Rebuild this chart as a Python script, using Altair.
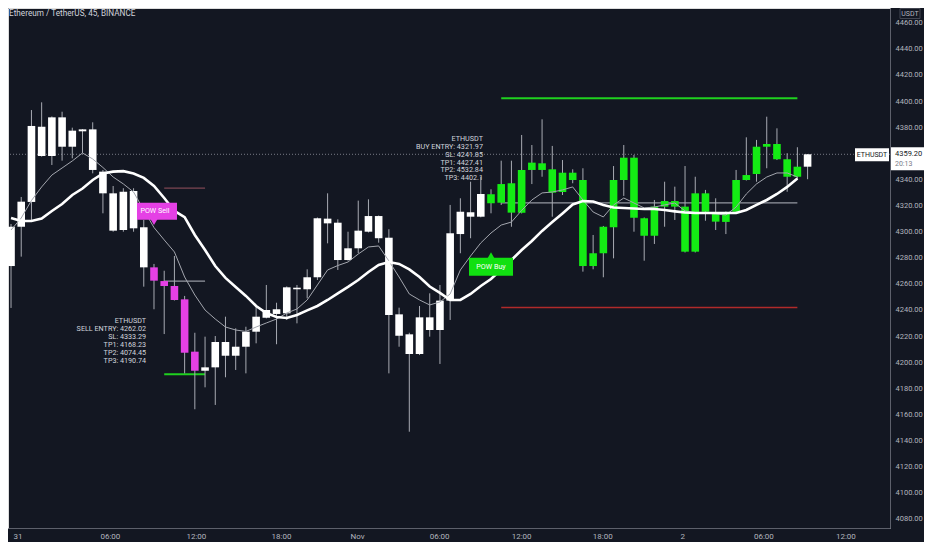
import altair as alt
import pandas as pd

TITLE = "Ethereum / TetherUS, 45, BINANCE"

opens = [4273.6, 4303.7, 4322.7, 4380.3, 4357.9, 4387.5, 4365.0, 4376.8, 4378.3, 4345.9,
         4329.3, 4301.2, 4331.1, 4303.3, 4272.6, 4262.1, 4258.3, 4248.1, 4208.0, 4193.4,
         4196.0, 4215.4, 4204.9, 4211.8, 4223.3, 4234.0, 4240.5, 4237.4, 4257.0, 4255.8,
         4265.0, 4309.9, 4306.8, 4278.2, 4287.2, 4299.9, 4311.9, 4295.3, 4236.6, 4221.3,
         4206.2, 4234.3, 4224.6, 4247.1, 4298.1, 4314.8, 4311.4, 4328.6, 4322.1, 4337.0,
         4314.5, 4347.2, 4352.3, 4347.7, 4330.3, 4345.1, 4339.5, 4273.6, 4283.4, 4303.3,
         4339.5, 4356.6, 4310.2, 4296.8, 4319.1, 4323.4, 4319.1, 4284.6, 4329.3, 4314.5,
         4307.4, 4315.2, 4339.5, 4344.1, 4365.0, 4367.1, 4355.4, 4342.0, 4349.7]
highs = [4305.8, 4326.5, 4393.1, 4399.0, 4388.2, 4391.8, 4379.6, 4378.5, 4383.7, 4347.2,
         4334.9, 4333.2, 4333.2, 4308.9, 4275.2, 4270.0, 4281.3, 4250.7, 4222.5, 4219.5,
         4220.0, 4234.8, 4225.9, 4227.1, 4243.0, 4259.1, 4245.5, 4258.0, 4259.1, 4271.1,
         4310.8, 4329.3, 4309.4, 4299.9, 4323.7, 4324.7, 4312.3, 4301.8, 4241.7, 4222.5,
         4243.0, 4252.7, 4259.1, 4320.4, 4325.5, 4338.2, 4342.0, 4332.4, 4354.3, 4354.3,
         4374.0, 4366.3, 4386.0, 4365.6, 4354.8, 4347.7, 4348.5, 4297.4, 4304.3, 4350.2,
         4366.3, 4358.7, 4310.8, 4324.2, 4338.2, 4334.4, 4350.2, 4342.0, 4331.9, 4325.5,
         4315.4, 4347.2, 4372.2, 4370.2, 4388.0, 4379.1, 4360.0, 4364.6, 4359.4]
lows = [4241.5, 4280.8, 4308.9, 4357.4, 4351.0, 4354.3, 4356.1, 4360.0, 4344.6, 4314.0,
        4299.9, 4299.9, 4299.9, 4257.8, 4240.5, 4221.5, 4247.2, 4191.4, 4163.9, 4180.7,
        4167.2, 4188.4, 4194.0, 4191.4, 4214.4, 4233.5, 4213.7, 4232.3, 4229.7, 4248.9,
        4262.9, 4291.0, 4270.6, 4277.7, 4283.4, 4299.3, 4291.5, 4191.4, 4211.8, 4146.7,
        4205.4, 4219.5, 4198.6, 4232.3, 4283.4, 4294.9, 4310.9, 4314.0, 4320.4, 4303.7,
        4313.9, 4336.4, 4342.0, 4311.4, 4328.0, 4337.0, 4269.3, 4271.1, 4265.0, 4279.5,
        4327.3, 4299.9, 4277.7, 4290.5, 4303.7, 4308.9, 4284.0, 4284.0, 4308.3, 4301.2,
        4298.1, 4314.6, 4339.1, 4338.2, 4348.5, 4354.8, 4330.5, 4340.1, 4340.1]
closes = [4303.7, 4322.9, 4380.9, 4357.9, 4387.5, 4365.0, 4377.3, 4378.3, 4347.2, 4329.3,
          4300.7, 4330.5, 4302.5, 4272.6, 4262.4, 4258.3, 4247.6, 4207.2, 4193.4, 4196.0,
          4215.4, 4204.9, 4211.8, 4223.3, 4234.8, 4239.9, 4236.9, 4257.3, 4255.8, 4265.0,
          4310.2, 4306.3, 4278.2, 4287.2, 4300.7, 4311.9, 4294.9, 4236.1, 4220.2, 4206.2,
          4234.3, 4224.6, 4247.1, 4298.7, 4315.2, 4311.4, 4328.8, 4321.7, 4336.4, 4314.5,
          4347.2, 4352.8, 4347.2, 4329.8, 4345.1, 4339.5, 4273.6, 4283.4, 4303.7, 4339.5,
          4356.6, 4310.6, 4296.8, 4319.1, 4323.4, 4319.1, 4284.6, 4329.3, 4315.2, 4307.6,
          4314.5, 4339.5, 4343.3, 4365.0, 4367.1, 4355.4, 4342.0, 4349.7, 4359.2]
signal = (["none"] * 14 + ["sell"] * 5 + ["none"] * 28 + ["buy"] * 31 + ["none"])

slow_ma = [4310.4, 4308.1, 4308.1, 4310.0, 4315.8, 4321.1, 4328.0, 4333.0, 4339.5, 4344.5,
           4345.9, 4346.3, 4344.5, 4341.1, 4334.9, 4325.7, 4315.8, 4311.0, 4297.4, 4285.9,
           4273.6, 4264.5, 4257.6, 4250.7, 4243.0, 4237.6, 4234.6, 4233.8, 4236.1, 4239.6,
           4243.0, 4247.6, 4252.6, 4257.6, 4262.9, 4269.0, 4274.4, 4276.7, 4275.2, 4271.0,
           4265.2, 4257.9, 4253.0, 4247.6, 4247.6, 4252.2, 4258.3, 4263.7, 4271.0, 4278.2,
           4285.9, 4292.8, 4300.5, 4307.3, 4313.9, 4320.8, 4323.4, 4323.1, 4320.4, 4318.5,
           4318.1, 4317.7, 4317.3, 4317.3, 4316.5, 4315.5, 4314.6, 4314.2, 4314.2, 4314.2,
           4314.2, 4314.2, 4316.5, 4320.4, 4324.2, 4328.8, 4334.2, 4340.7]
fast_ma = [4301.2, 4310.4, 4323.8, 4334.2, 4343.3, 4348.7, 4354.1, 4360.2, 4355.6, 4349.1,
           4341.8, 4336.5, 4330.3, 4316.5, 4303.1, 4293.6, 4284.4, 4265.2, 4251.4, 4239.9,
           4233.0, 4226.9, 4224.6, 4223.5, 4226.9, 4230.0, 4233.0, 4237.6, 4240.7, 4247.6,
           4259.1, 4270.6, 4274.0, 4276.7, 4282.8, 4288.2, 4289.0, 4277.5, 4265.2, 4252.2,
           4247.6, 4243.8, 4246.1, 4252.2, 4270.6, 4281.3, 4291.3, 4298.9, 4305.0, 4307.3,
           4316.2, 4324.2, 4329.6, 4330.3, 4331.9, 4334.2, 4324.2, 4315.0, 4311.2, 4320.4,
           4325.7, 4321.9, 4318.1, 4318.8, 4320.4, 4321.9, 4315.8, 4314.6, 4314.2, 4313.5,
           4312.7, 4318.8, 4328.8, 4336.5, 4341.8, 4344.9, 4344.9, 4341.8]

# signal levels
lv_kind = ["sl_sell", "entry", "tp", "tp", "sl_buy", "entry"]
lv_start = [15, 15, 15, 48, 48, 48]
lv_end = [19, 19, 19, 77, 77, 77]
lv_price = [4333.29, 4262.02, 4190.74, 4402.1, 4241.85, 4321.97]

# signal labels
sig_bar = [14, 47]
sig_price = [4303.7, 4285.4]
sig_text = ["POW Sell", "POW Buy"]

# info blocks
info_bar = [13.23, 46.21]
info_price = [4234.2, 4374.1]
info_text = [
    "ETHUSDT\nSELL ENTRY: 4262.02\nSL: 4333.29\nTP1: 4168.23\nTP2: 4074.45\nTP3: 4190.74",
    "ETHUSDT\nBUY ENTRY: 4321.97\nSL: 4241.85\nTP1: 4427.41\nTP2: 4532.84\nTP3: 4402.1",
]

last_price = 4359.20
last_price_text = "4359.20"
countdown = "20:13"
symbol = "ETHUSDT"
currency = "USDT"

tick_pos = [0.194, 9.68, 18.1, 26.43, 33.88, 41.92, 49.95, 57.89, 65.73, 73.67, 81.7]
tick_txt = ["31", "06:00", "12:00", "18:00", "Nov", "06:00", "12:00", "18:00", "2", "06:00", "12:00"]
# 4360.00 is hidden behind the last-price tag in the original
price_ticks = [4080, 4100, 4120, 4140, 4160, 4180, 4200, 4220, 4240, 4260, 4280, 4300,
               4320, 4340, 4380, 4400, 4420, 4440, 4460]

W, H = 882, 520
BG = "#131722"
AX = "#b2b5be"
FONT = "Roboto"
PINK = "#e540e5"
GREEN = "#14ec14"

candles = pd.DataFrame({"j": list(range(len(opens))), "o": opens, "h": highs,
                        "l": lows, "c": closes, "sig": signal})
ma = pd.DataFrame({"j": list(range(len(slow_ma))), "slow": slow_ma, "fast": fast_ma})
levels = pd.DataFrame({"j1": lv_start, "j2": lv_end, "price": lv_price, "kind": lv_kind})
sell = pd.DataFrame({"j": sig_bar[:1], "price": sig_price[:1], "text": sig_text[:1]})
buy = pd.DataFrame({"j": sig_bar[1:], "price": sig_price[1:], "text": sig_text[1:]})
info = pd.DataFrame({"j": info_bar, "price": info_price, "text": info_text})
lastdf = pd.DataFrame({"price": [last_price], "txt": [last_price_text],
                       "cd": [countdown], "sym": [symbol]})
cur = pd.DataFrame({"t": [currency], "title": [TITLE]})

xs = alt.Scale(domain=[0.194, 85.58], nice=False, zero=False)
ys = alt.Scale(domain=[4072.94, 4471.26], nice=False, zero=False)

pos_js = "[" + ",".join(repr(v) for v in tick_pos) + "]"
txt_js = "[" + ",".join("'%s'" % t for t in tick_txt) + "]"
xaxis = alt.Axis(values=tick_pos, labelExpr=f"{txt_js}[indexof({pos_js}, datum.value)]",
                 title=None, grid=False, ticks=False, domainColor="#5d606b",
                 labelColor=AX, labelFontSize=8, labelFont=FONT, labelPadding=4,
                 labelFlush=5, labelOverlap=False, labelBound=False)
yaxis = alt.Axis(orient="right", values=price_ticks, format=".2f", title=None, grid=False,
                 ticks=False, domainColor="#5d606b", labelColor=AX, labelFontSize=7.5,
                 labelFont=FONT, labelPadding=5, labelOverlap=False, labelBound=False,
                 labelFlush=False)


def X(f):
    return alt.X(f, type="quantitative", scale=xs, axis=xaxis)


def Y(f):
    return alt.Y(f, type="quantitative", scale=ys, axis=yaxis)


price_line = alt.Chart(lastdf).mark_rule(color="#787b86", strokeDash=[1, 2], strokeWidth=1).encode(
    y=Y("price"))

lv_style = {"sl_sell": ("#7d4652", 1.3), "entry": ("#9598a1", 1.2),
            "tp": ("#1fd11f", 2), "sl_buy": ("#b02a2a", 1.3)}
level_layers = [
    alt.Chart(levels).transform_filter(alt.datum.kind == k).mark_rule(color=c, strokeWidth=w).encode(
        x=X("j1"), x2="j2", y=Y("price"))
    for k, (c, w) in lv_style.items()
]

wicks = alt.Chart(candles).mark_rule(color="#a8abb3", strokeWidth=1).encode(
    x=X("j"), y=Y("l"), y2="h")

body_style = {"none": "#ffffff", "sell": PINK, "buy": GREEN}
body_layers = [
    alt.Chart(candles).transform_filter(alt.datum.sig == k).mark_bar(size=7.6, color=c).encode(
        x=X("j"), y=Y("o"), y2="c")
    for k, c in body_style.items()
]

fast_line = alt.Chart(ma).mark_line(color="#a3a6ae", strokeWidth=1).encode(x=X("j"), y=Y("fast"))
slow_line = alt.Chart(ma).mark_line(color="#ffffff", strokeWidth=2.6).encode(x=X("j"), y=Y("slow"))

BOXG = "#11e011"
sell_box = alt.Chart(sell).mark_rect(color=PINK, xOffset=-17, x2Offset=23, yOffset=-24,
                                     y2Offset=-7).encode(x=X("j"), x2="j", y=Y("price"), y2="price")
sell_tri = alt.Chart(sell).mark_point(shape="triangle-down", filled=True, color=PINK, size=60,
                                      opacity=1, yOffset=-5).encode(x=X("j"), y=Y("price"))
sell_txt = alt.Chart(sell).mark_text(color="#ffffff", fontSize=7.2, font=FONT, yOffset=-15.5,
                                     dx=1).encode(x=X("j"), y=Y("price"), text="text:N")
buy_box = alt.Chart(buy).mark_rect(color=BOXG, xOffset=-22, x2Offset=22, yOffset=7,
                                   y2Offset=25).encode(x=X("j"), x2="j", y=Y("price"), y2="price")
buy_tri = alt.Chart(buy).mark_point(shape="triangle-up", filled=True, color=BOXG, size=60,
                                    opacity=1, yOffset=5).encode(x=X("j"), y=Y("price"))
buy_txt = alt.Chart(buy).mark_text(color="#ffffff", fontSize=7.2, font=FONT, yOffset=16).encode(
    x=X("j"), y=Y("price"), text="text:N")

info_txt = alt.Chart(info).mark_text(color="#d1d4dc", fontSize=7.2, font=FONT, align="right",
                                     baseline="top", lineBreak="\n", lineHeight=7.9).encode(
    x=X("j"), y=Y("price"), text="text:N")

# right side price tag
tag_box = alt.Chart(lastdf).mark_rect(color="#ffffff", yOffset=-7, y2Offset=16).encode(
    x=alt.value(W + 1), x2=alt.value(W + 34), y=Y("price"), y2="price")
tag_txt = alt.Chart(lastdf).mark_text(color=BG, fontSize=7.5, font=FONT, align="left").encode(
    x=alt.value(W + 5), y=Y("price"), text="txt:N")
tag_cd = alt.Chart(lastdf).mark_text(color="#787b86", fontSize=7, font=FONT, align="left",
                                     yOffset=9.5).encode(x=alt.value(W + 5), y=Y("price"), text="cd:N")
sym_box = alt.Chart(lastdf).mark_rect(color="#ffffff", yOffset=-6, y2Offset=7).encode(
    x=alt.value(W - 35), x2=alt.value(W - 1), y=Y("price"), y2="price")
sym_txt = alt.Chart(lastdf).mark_text(color=BG, fontSize=7, font=FONT, yOffset=0.5).encode(
    x=alt.value(W - 18), y=Y("price"), text="sym:N")

usdt_box = alt.Chart(cur).mark_rect(fill=BG, stroke="#434651", strokeWidth=1).encode(
    x=alt.value(W + 10), x2=alt.value(W + 30), y=alt.value(0.5), y2=alt.value(10.5))
usdt_txt = alt.Chart(cur).mark_text(color=AX, fontSize=7, font=FONT).encode(
    x=alt.value(W + 20), y=alt.value(5.5), text="t:N")
title_txt = alt.Chart(cur).mark_text(color="#d1d4dc", fontSize=8.2, font=FONT, align="left",
                                     baseline="middle").encode(
    x=alt.value(1), y=alt.value(6), text="title:N")

chart = alt.layer(
    price_line, *level_layers, wicks, *body_layers, fast_line, slow_line,
    sell_box, sell_tri, sell_txt, buy_box, buy_tri, buy_txt, info_txt,
    sym_box, sym_txt, tag_box, tag_txt, tag_cd, usdt_box, usdt_txt, title_txt,
).properties(
    width=W, height=H, background=BG,
    padding={"left": 0, "top": 0, "right": 34, "bottom": 14},
    autosize=alt.AutoSizeParams(type="none"),
).configure_view(stroke=None).configure(font=FONT)

chart.save("out.html", embed_options={"renderer": "svg", "actions": False})
